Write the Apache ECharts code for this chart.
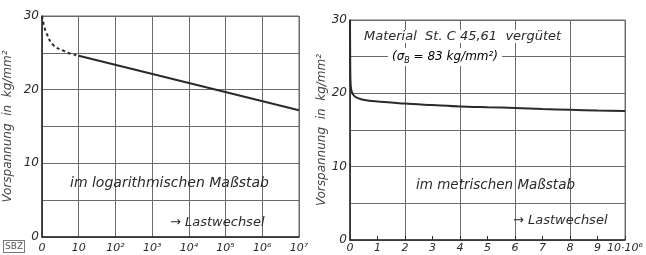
<!DOCTYPE html>
<html>
<head>
<meta charset="utf-8">
<script src="https://cdn.jsdelivr.net/npm/echarts@6/dist/echarts.min.js"></script>
<style>
  html, body { margin: 0; padding: 0; background: #fff; }
  #main { width: 646px; height: 255px; }
</style>
</head>
<body>
<div id="main"></div>
<script>
    // left panel: load cycles on log scale
    var logTicks = [1, 10, 100, 1e3, 1e4, 1e5, 1e6, 1e7];
    var logTickLabels = ['0', '10', '10²', '10³', '10⁴', '10⁵', '10⁶', '10⁷'];
    var logDashed = [[1, 30], [1.15, 28.6], [1.34, 27.6], [2.04, 26.05], [3.8, 25.3], [5.8, 24.9], [10, 24.6]];
    var logSolid = [[10, 24.6], [1e7, 17.2]];

    // right panel: load cycles in units of 10^6, metric scale
    var linTickLabels = ['0', '1', '2', '3', '4', '5', '6', '7', '8', '9', '10·10⁶'];
    var linCurve = [[0, 30], [0.005, 26], [0.015, 22], [0.04, 20.6], [0.1, 19.9], [0.2, 19.5], [0.4, 19.2],
        [0.7, 19.0], [1, 18.9], [2, 18.6], [3, 18.4], [4, 18.2], [5, 18.1], [6, 18.0],
        [7, 17.85], [8, 17.75], [9, 17.65], [10, 17.6]];

    var yTickLabels = ['0', '10', '20', '30'];

    var ink = '#2a2a2a';
    var gridCol = '#6a6a6a';
    var font = 'DejaVu Sans';

    function yAxis(gridIndex, gap) {
        return {
            type: 'value', gridIndex: gridIndex, min: 0, max: 30, interval: 5,
            name: 'Vorspannung  in  kg/mm²', nameLocation: 'middle', nameGap: gap, nameRotate: 90,
            nameTextStyle: { fontFamily: font, fontStyle: 'italic', fontSize: 12, color: '#444' },
            axisLine: { show: true, lineStyle: { color: ink, width: 1.5 } },
            axisTick: { show: false },
            splitLine: { show: true, lineStyle: { color: gridCol, width: 1 } },
            axisLabel: {
                margin: 3, fontFamily: font, fontStyle: 'italic', fontSize: 12, color: ink,
                formatter: function (v) { return v % 10 === 0 ? yTickLabels[v / 10] : ''; }
            }
        };
    }

    var myChart = echarts.init(document.getElementById('main'));
    var option = {
        animation: false,
        backgroundColor: '#fff',
        grid: [
            { left: 42, right: 347, top: 16, bottom: 18, show: true, borderColor: gridCol, borderWidth: 1 },
            { left: 350, right: 18, top: 20, bottom: 15, show: true, borderColor: gridCol, borderWidth: 1 }
        ],
        xAxis: [
            {
                type: 'log', logBase: 10, gridIndex: 0, min: 1, max: 1e7, position: 'bottom',
                axisLine: { show: true, lineStyle: { color: ink, width: 1.5 } },
                axisTick: { show: false },
                splitLine: { show: true, lineStyle: { color: gridCol, width: 1 } },
                axisLabel: {
                    margin: 6, fontFamily: font, fontStyle: 'italic', fontSize: 11, color: ink,
                    formatter: function (v) {
                        var i = logTicks.indexOf(v);
                        return i >= 0 ? logTickLabels[i] : '';
                    }
                }
            },
            {
                // grid lines every 2
                type: 'value', gridIndex: 1, min: 0, max: 10, interval: 2, position: 'bottom',
                axisLine: { show: false }, axisTick: { show: false }, axisLabel: { show: false },
                splitLine: { show: true, lineStyle: { color: gridCol, width: 1 } }
            },
            {
                // labels and small ticks every 1
                type: 'value', gridIndex: 1, min: 0, max: 10, interval: 1, position: 'bottom',
                axisLine: { show: true, lineStyle: { color: ink, width: 1.5 } },
                axisTick: { show: true, inside: true, length: 4, lineStyle: { color: ink } },
                splitLine: { show: false },
                axisLabel: {
                    margin: 3, fontFamily: font, fontStyle: 'italic', fontSize: 11, color: ink,
                    formatter: function (v) { return linTickLabels[v]; }
                }
            }
        ],
        yAxis: [yAxis(0, 28), yAxis(1, 20)],
        graphic: [
            { type: 'text', left: 70, top: 176, z: 100, style: { text: 'im logarithmischen Maßstab', font: 'italic 14px "DejaVu Sans"', fill: ink } },
            { type: 'text', left: 170, top: 216, z: 100, style: { text: '→ Lastwechsel', font: 'italic 13px "DejaVu Sans"', fill: ink } },
            { type: 'text', left: 416, top: 178, z: 100, style: { text: 'im metrischen Maßstab', font: 'italic 13.5px "DejaVu Sans"', fill: ink } },
            { type: 'text', left: 513, top: 214, z: 100, style: { text: '→ Lastwechsel', font: 'italic 13px "DejaVu Sans"', fill: ink } },
            { type: 'text', left: 364, top: 30, z: 100, style: { text: 'Material  St. C 45,61  vergütet', font: 'italic 13px "DejaVu Sans"', fill: ink, backgroundColor: '#fff' } },
            {
                type: 'text', left: 388, top: 48, z: 100,
                style: {
                    text: '{a|(σ}{s|B}{a| = 83 kg/mm²)}', backgroundColor: '#fff', padding: [1, 4],
                    rich: {
                        a: { fontFamily: font, fontStyle: 'italic', fontSize: 12, color: ink, lineHeight: 16 },
                        s: { fontFamily: font, fontStyle: 'italic', fontSize: 8, color: ink, lineHeight: 16, verticalAlign: 'bottom' }
                    }
                }
            },
            { type: 'text', left: 3, top: 240, z: 100, style: { text: 'SBZ', font: '9px "DejaVu Sans"', fill: '#555', backgroundColor: '#fff', borderColor: '#777', borderWidth: 1, padding: [1, 1] } }
        ],
        series: [
            {
                type: 'line', xAxisIndex: 0, yAxisIndex: 0, data: logDashed, smooth: true,
                symbol: 'none', lineStyle: { color: ink, width: 2, type: [3, 3] }
            },
            {
                type: 'line', xAxisIndex: 0, yAxisIndex: 0, data: logSolid,
                symbol: 'none', lineStyle: { color: ink, width: 2 }
            },
            {
                type: 'line', xAxisIndex: 2, yAxisIndex: 1, data: linCurve, smooth: 0.3,
                symbol: 'none', lineStyle: { color: ink, width: 2 }
            }
        ]
    };
    myChart.setOption(option);
</script>
</body>
</html>
